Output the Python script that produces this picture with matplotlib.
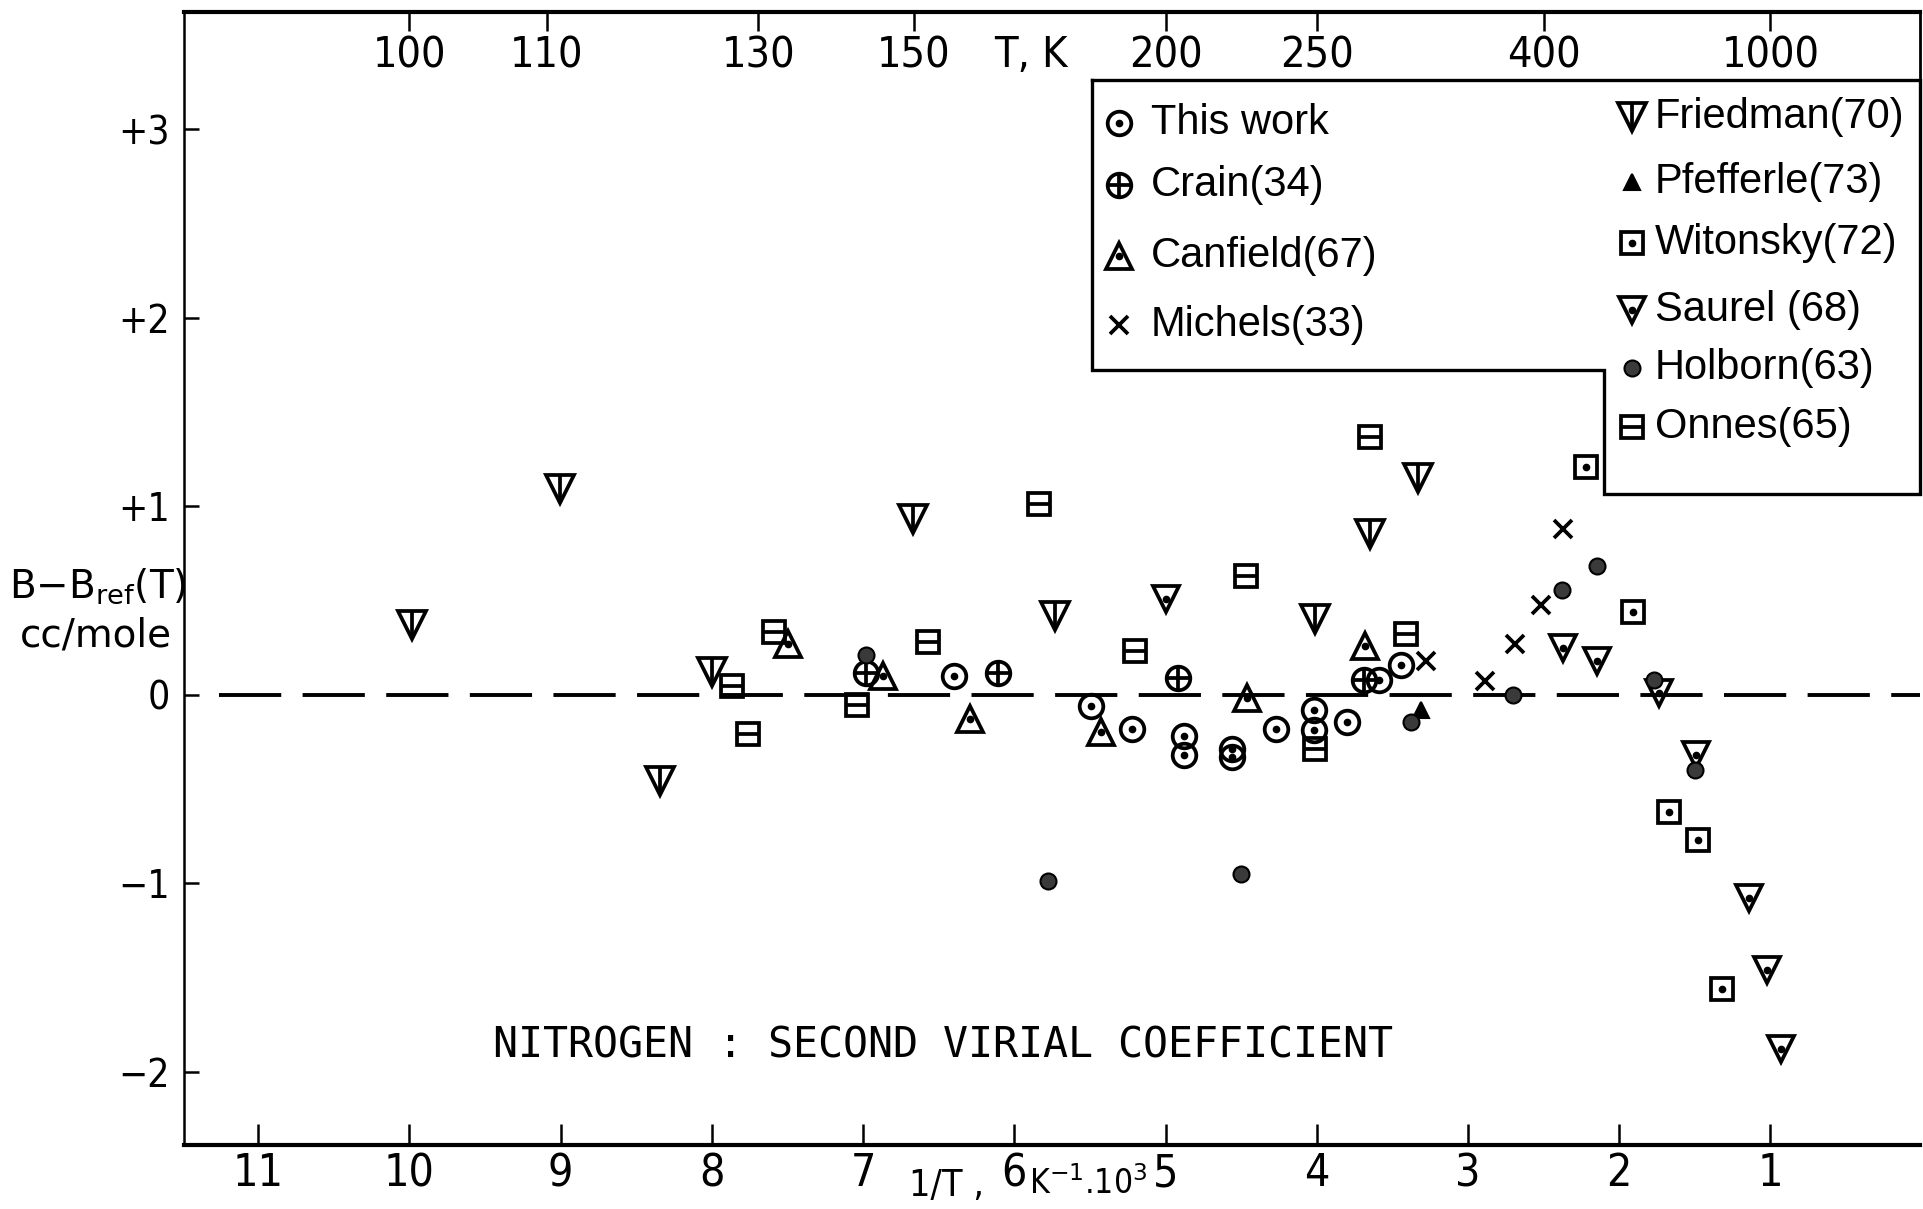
import matplotlib
matplotlib.use("Agg")
import matplotlib.pyplot as plt
from matplotlib import font_manager
from matplotlib.transforms import blended_transform_factory

# pick a narrow font for the hand-lettered numbers if one is installed
NARROW = "Liberation Sans"
NARROW_STRETCH = "normal"
for f in font_manager.fontManager.ttflist:
    if "Narrow" in f.name or "Condensed" in f.name:
        NARROW = f.name
        break
    if f.stretch not in ("normal", 500) and f.name == "DejaVu Sans" and f.style == "normal":
        NARROW = f.name
        NARROW_STRETCH = f.stretch
        break

## data: 1/T (K^-1 * 10^3) and B - Bref (cc/mole)
this_work_x = [6.40, 5.49, 5.22, 4.88, 4.88, 4.56, 4.56, 4.27, 4.02, 4.02, 3.80, 3.59, 3.44]
this_work_y = [0.10, -0.06, -0.18, -0.22, -0.32, -0.29, -0.33, -0.18, -0.08, -0.19, -0.145, 0.08, 0.155]

crain_x = [6.98, 6.11, 4.92, 3.69]
crain_y = [0.115, 0.115, 0.09, 0.08]

canfield_x = [7.495, 6.87, 6.29, 5.43, 4.46, 3.68]
canfield_y = [0.27, 0.10, -0.13, -0.20, -0.02, 0.26]

michels_x = [3.28, 2.89, 2.69, 2.52, 2.37]
michels_y = [0.18, 0.07, 0.27, 0.475, 0.88]

friedman_x = [9.985, 9.005, 8.34, 8.0, 6.67, 5.73, 4.01, 3.65, 3.33]
friedman_y = [0.37, 1.09, -0.46, 0.12, 0.93, 0.42, 0.40, 0.855, 1.15]

pfefferle_x = [3.31]
pfefferle_y = [-0.08]

witonsky_x = [2.22, 1.91, 1.67, 1.48, 1.32]
witonsky_y = [1.21, 0.44, -0.62, -0.77, -1.56]

saurel_x = [5.00, 2.37, 2.15, 1.74, 1.49, 1.14, 1.02, 0.93]
saurel_y = [0.51, 0.245, 0.18, 0.01, -0.32, -1.08, -1.46, -1.88]

holborn_x = [6.98, 5.78, 4.50, 3.38, 2.70, 2.38, 2.15, 1.77, 1.50]
holborn_y = [0.21, -0.99, -0.95, -0.145, 0.0, 0.555, 0.68, 0.08, -0.40]

onnes_x = [7.87, 7.76, 7.59, 7.04, 6.57, 5.84, 5.20, 4.47, 4.01, 3.65, 3.41]
onnes_y = [0.044, -0.21, 0.335, -0.055, 0.28, 1.01, 0.23, 0.63, -0.29, 1.365, 0.32]

bottom_ticks = [11, 10, 9, 8, 7, 6, 5, 4, 3, 2, 1]
left_ticks = [3, 2, 1, 0, -1, -2]
left_labels = ["+3", "+2", "+1", "0", "\u22121", "\u22122"]
top_T = [100, 110, 130, 150, 200, 250, 400, 1000]

MEW = 2.7

## marker styles: (main marker, inner mark, size, filled colour)
styles = {
    "this": ("o", "dot", 17, None),
    "crain": ("o", "+", 17, None),
    "canfield": ("^", "dot", 18.5, None),
    "michels": ("x", None, 13.5, None),
    "friedman": ("v", "|", 19.5, None),
    "pfefferle": ("^", None, 12, "k"),
    "witonsky": ("s", "dot", 16.5, None),
    "saurel": ("v", "dot", 18.5, None),
    "holborn": ("o", None, 11.5, "#3a3a3a"),
    "onnes": ("s", "_", 16.5, None),
}


def draw(ax, xs, ys, key, **kw):
    m, inner, ms, fill = styles[key]
    if fill is None:
        ax.plot(xs, ys, ls="none", marker=m, ms=ms, mfc="none", mec="k", mew=MEW, **kw)
    else:
        ax.plot(xs, ys, ls="none", marker=m, ms=ms, mfc=fill, mec="k", mew=1.5, **kw)
    if inner == "dot":
        ax.plot(xs, ys, ls="none", marker="o", ms=4.5, mfc="k", mec="k", **kw)
    elif inner is not None:
        ax.plot(xs, ys, ls="none", marker=inner, ms=ms, mec="k", mew=MEW, **kw)


num_font = dict(fontfamily=NARROW, fontstretch=NARROW_STRETCH)

fig = plt.figure(figsize=(19.24, 12.09), dpi=100)
ax = fig.add_axes([0.0957, 0.0528, 0.9023, 0.937])

ax.set_xlim(11.49, 0.01)
ax.set_ylim(-2.39, 3.62)

## zero reference line
ax.axhline(0, xmin=0.02, color="k", lw=2.8, ls=(0, (16, 5.5)), zorder=1)

draw(ax, this_work_x, this_work_y, "this")
draw(ax, crain_x, crain_y, "crain")
draw(ax, canfield_x, canfield_y, "canfield")
draw(ax, michels_x, michels_y, "michels")
draw(ax, friedman_x, friedman_y, "friedman")
draw(ax, pfefferle_x, pfefferle_y, "pfefferle")
draw(ax, witonsky_x, witonsky_y, "witonsky")
draw(ax, saurel_x, saurel_y, "saurel")
draw(ax, holborn_x, holborn_y, "holborn")
draw(ax, onnes_x, onnes_y, "onnes")

## spines
ax.spines["left"].set_linewidth(1.8)
ax.spines["bottom"].set_linewidth(3)
ax.spines["top"].set_linewidth(3)
ax.spines["right"].set_linewidth(2)
ax.spines["right"].set_bounds(1.07, 3.62)

## bottom axis
ax.set_xticks(bottom_ticks)
ax.set_xticklabels([str(t) for t in bottom_ticks], fontsize=32, **num_font)
ax.tick_params(axis="x", direction="in", length=15, width=1.8, pad=5)

## left axis
ax.set_yticks(left_ticks)
ax.set_yticklabels(left_labels, fontsize=28, **num_font)
ax.tick_params(axis="y", direction="in", length=11, width=1.8, pad=10)

## top axis in T, K (ticks inward, labels inside the frame)
ax_top = ax.twiny()
ax_top.set_xlim(ax.get_xlim())
for s in ax_top.spines.values():
    s.set_visible(False)
ax_top.set_xticks([1000.0 / t for t in top_T])
ax_top.set_xticklabels([])
ax_top.tick_params(axis="x", direction="in", length=14, width=1.8)
trans_top = blended_transform_factory(ax.transData, ax.transAxes)
for t in top_T:
    ax.text(1000.0 / t, 0.962, str(t), transform=trans_top, ha="center", va="center",
            fontsize=31, **num_font)
ax.text(0.488, 0.962, "T, K", transform=ax.transAxes, ha="center", va="center",
        fontsize=31, **num_font)

## axis labels, squeezed between the tick labels as in the drawing
ax.text(0.439, -0.036, "1/T ,", transform=ax.transAxes, ha="center", va="center",
        fontsize=27, **num_font)
ax.text(0.521, -0.034, r"K$^{-1}$.10$^{3}$", transform=ax.transAxes, ha="center", va="center",
        fontsize=24, **num_font)
fig.text(0.051, 0.515, r"B$-$B$_{\mathrm{ref}}$(T)", ha="center", va="center", fontsize=28)
fig.text(0.050, 0.474, "cc/mole", ha="center", va="center", fontsize=28)

ax.text(0.437, 0.088, "NITROGEN : SECOND VIRIAL COEFFICIENT", transform=ax.transAxes,
        ha="center", va="center", fontfamily="DejaVu Sans Mono", fontsize=30)

## hand-made legend box (L-shaped)
box_x = [0.523, 1.0, 1.0, 0.818, 0.818, 0.523, 0.523]
box_y = [0.940, 0.940, 0.575, 0.575, 0.684, 0.684, 0.940]
ax.plot(box_x, box_y, color="k", lw=2.4, transform=ax.transAxes, clip_on=False,
        solid_joinstyle="miter")

legend_left = [("this", "This work"), ("crain", "Crain(34)"),
               ("canfield", "Canfield(67)"), ("michels", "Michels(33)")]
legend_right = [("friedman", "Friedman(70)"), ("pfefferle", "Pfefferle(73)"),
                ("witonsky", "Witonsky(72)"), ("saurel", "Saurel (68)"),
                ("holborn", "Holborn(63)"), ("onnes", "Onnes(65)")]
rows_left = [0.9025, 0.848, 0.785, 0.724]
rows_right = [0.908, 0.850, 0.796, 0.737, 0.686, 0.634]

for (key, name), yy in zip(legend_left, rows_left):
    draw(ax, [0.5385], [yy], key, transform=ax.transAxes, clip_on=False)
    ax.text(0.557, yy, name, transform=ax.transAxes, va="center", ha="left",
            fontfamily="Liberation Sans", fontsize=30)
for (key, name), yy in zip(legend_right, rows_right):
    draw(ax, [0.834], [yy], key, transform=ax.transAxes, clip_on=False)
    ax.text(0.847, yy, name, transform=ax.transAxes, va="center", ha="left",
            fontfamily="Liberation Sans", fontsize=30)

fig.savefig("out.png", dpi=100)
